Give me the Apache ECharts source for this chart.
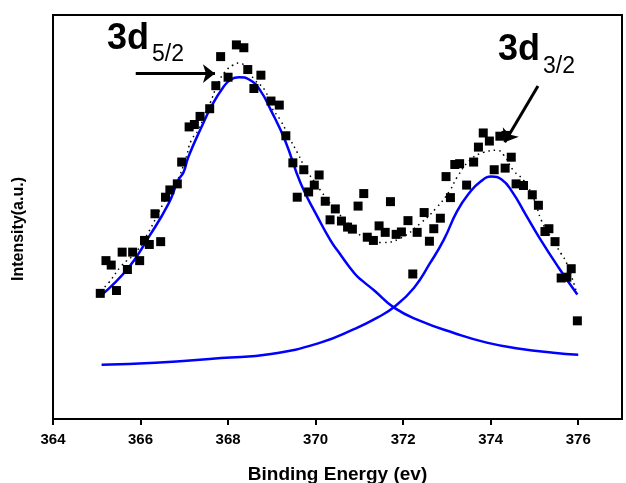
<!DOCTYPE html>
<html>
<head>
<meta charset="utf-8">
<title>XPS 3d</title>
<script src="https://cdn.jsdelivr.net/npm/echarts@6/dist/echarts.min.js"></script>
<style>
html,body{margin:0;padding:0;background:#fff;}
#xpsChart{width:626px;height:483px;}
</style>
</head>
<body>
<div id="xpsChart"></div>
<script>
// measured points (binding energy eV, intensity a.u.)
var expX = [365.08,365.21,365.33,365.45,365.58,365.70,365.82,365.98,366.09,366.20,366.46,366.33,366.57,366.67,366.84,366.94,
	367.11,367.23,367.36,367.58,367.72,367.83,368.00,368.19,368.36,368.45,368.59,368.75,368.98,369.17,369.32,369.48,
	369.58,369.73,369.84,369.97,370.08,370.22,370.33,370.45,370.59,370.73,370.84,370.97,371.10,371.18,371.32,371.45,
	371.59,371.71,371.84,371.96,372.11,372.22,372.32,372.48,372.60,372.70,372.85,372.98,373.08,373.18,373.29,373.45,
	373.61,373.72,373.83,373.97,374.08,374.21,374.33,374.35,374.47,374.58,374.75,374.95,375.09,375.24,375.33,375.47,
	375.61,375.74,375.84,375.98];
var expY = [31.1,39.2,38.1,31.8,41.3,37.0,41.3,39.2,44.2,43.2,43.9,50.8,54.9,56.7,58.2,63.6,
	72.3,72.9,74.9,76.8,82.5,89.7,84.6,92.6,91.9,86.5,81.8,85.1,78.7,77.7,70.1,63.4,
	54.9,61.7,56.2,57.9,60.4,53.9,49.3,52.0,49.0,47.5,47.0,52.7,55.8,45.0,44.2,47.8,
	46.2,53.8,45.7,46.3,49.1,35.9,46.2,51.1,44.0,47.1,49.7,60.0,54.8,63.0,63.2,57.9,
	63.6,67.3,70.8,68.8,61.7,70.0,62.1,70.2,64.8,58.2,57.8,55.5,52.9,46.4,47.1,43.9,
	34.9,35.1,37.2,24.3];

// envelope (dotted)
var envX = [365.09,365.27,365.57,365.89,366.18,366.52,366.82,367.02,367.16,367.32,367.48,367.59,367.77,367.93,368.11,368.27,
	368.41,368.61,368.84,368.98,369.20,369.43,369.59,369.77,369.98,370.11,370.39,370.73,371.07,371.52,371.93,372.39,
	372.77,373.07,373.23,373.52,373.84,374.14,374.30,374.52,374.75,375.00,375.16,375.39,375.61,375.73,375.95];
var envY = [31.8,33.7,38.0,41.2,46.2,53.3,58.6,64.0,69.0,71.5,75.7,78.2,83.1,85.9,87.6,88.1,
	86.8,83.9,81.4,77.4,73.9,69.0,65.8,62.0,58.6,56.6,52.6,48.6,45.2,43.7,44.7,48.4,
	52.4,56.6,59.8,64.0,66.0,66.5,65.3,61.5,59.1,54.1,49.1,44.7,40.9,38.7,31.8];

// 3d5/2 component
var p1X = [365.09,365.73,366.18,366.64,366.86,366.98,367.09,367.39,367.61,367.89,368.07,368.25,368.50,368.73,368.98,369.30,
	369.66,370.05,370.34,370.50,370.89,371.07,371.34,371.80,372.39,373.16,373.91,374.66,375.43,376.00];
var p1Y = [30.5,37.5,44.9,53.3,59.1,61.0,64.8,72.2,77.2,82.1,84.1,84.6,83.9,81.4,76.4,69.0,
	58.3,49.9,44.2,41.7,36.0,34.2,31.8,27.5,24.3,21.3,18.9,17.4,16.4,15.9];

// 3d3/2 component
var p2X = [365.11,366.34,367.84,368.98,370.11,370.89,371.41,371.80,372.25,372.61,372.93,373.23,373.50,373.77,374.02,374.25,
	374.50,374.80,375.11,375.55,375.98];
var p2Y = [13.4,13.9,15.1,16.1,18.9,22.3,25.1,27.8,32.5,38.5,44.4,51.4,55.8,58.8,60.0,59.3,
	56.1,50.6,44.9,37.5,30.8];

var xTicks = [364,366,368,370,372,374,376];

function pairs(xs, ys){
	var out = [];
	for(var i=0;i<xs.length;i++){
		out.push([xs[i], ys[i]]);
	}
	return out;
}

var fontName = '"Liberation Sans", Arial, sans-serif';
var chart = echarts.init(document.getElementById('xpsChart'));
var option = {
	animation:false,
	grid:{
		left:53,
		right:4,
		top:15,
		bottom:64,
		outerBoundsMode:'none',
		containLabel:false,
		show:true,
		borderColor:'#000',
		borderWidth:2
	},
	xAxis:{
		type:'value',
		min:364,
		max:377,
		name:'Binding Energy (ev)',
		nameLocation:'middle',
		nameGap:46,
		nameTextStyle:{fontFamily:fontName,fontWeight:'bold',fontSize:19,color:'#000'},
		axisLine:{lineStyle:{color:'#000',width:2}},
		axisTick:{show:true,length:6,lineStyle:{color:'#000',width:2},customValues:xTicks},
		axisLabel:{fontFamily:fontName,fontWeight:'bold',fontSize:15,color:'#000',margin:13,customValues:xTicks},
		splitLine:{show:false}
	},
	yAxis:{
		type:'value',
		min:0,
		max:100,
		axisLine:{show:true,lineStyle:{color:'#000',width:2}},
		axisTick:{show:false},
		axisLabel:{show:false},
		splitLine:{show:false}
	},
	series:[
		{
			name:'fit',
			type:'line',
			data:pairs(envX, envY),
			smooth:true,
			symbol:'none',
			lineStyle:{color:'#000',width:1.5,type:[1.5,4]},
			z:2
		},
		{
			name:'3d5/2',
			type:'line',
			data:pairs(p1X, p1Y),
			smooth:true,
			symbol:'none',
			lineStyle:{color:'#0000ff',width:2.5},
			z:3
		},
		{
			name:'3d3/2',
			type:'line',
			data:pairs(p2X, p2Y),
			smooth:true,
			symbol:'none',
			lineStyle:{color:'#0000ff',width:2.5},
			z:3
		},
		{
			name:'exp',
			type:'scatter',
			data:pairs(expX, expY),
			symbol:'rect',
			symbolSize:9,
			itemStyle:{color:'#000',opacity:1},
			z:4,
			//标注箭头
			markLine:{
				silent:true,
				symbol:['none','arrow'],
				symbolSize:[14,12],
				label:{show:false},
				lineStyle:{color:'#000',width:3,type:'solid',opacity:1},
				data:[
					[{coord:[365.89,85.5]},{coord:[367.70,85.5]}],
					[{coord:[375.08,82.4]},{coord:[374.32,68.5]}]
				]
			}
		}
	],
	graphic:[
		{type:'text',left:107,top:21,style:{text:'3d',font:'bold 36px '+fontName,fill:'#000'}},
		{type:'text',left:152,top:43,style:{text:'5/2',font:'23px '+fontName,fill:'#000'}},
		{type:'text',left:498,top:32,style:{text:'3d',font:'bold 36px '+fontName,fill:'#000'}},
		{type:'text',left:543,top:55,style:{text:'3/2',font:'23px '+fontName,fill:'#000'}},
		//纵轴标题
		{type:'text',x:19,y:229,rotation:Math.PI/2,style:{text:'Intensity(a.u.)',font:'bold 16px '+fontName,fill:'#000',align:'center',verticalAlign:'middle'}}
	]
};
chart.setOption(option);
</script>
</body>
</html>
